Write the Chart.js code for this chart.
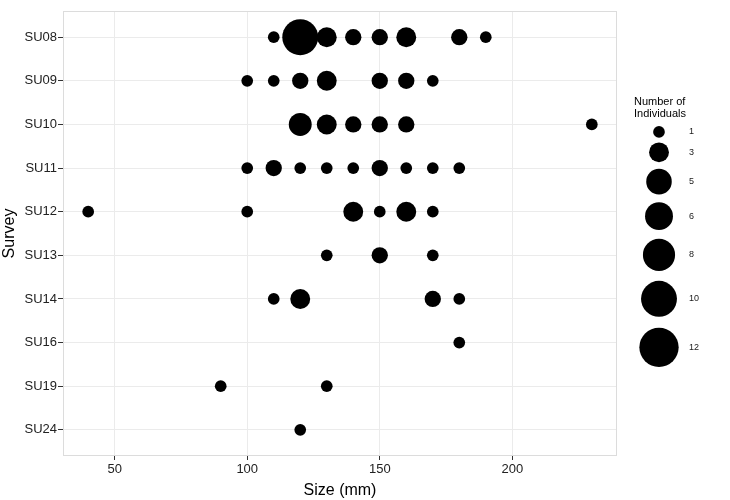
<!DOCTYPE html>
<html>
<head>
<meta charset="utf-8">
<script src="https://cdn.jsdelivr.net/npm/chart.js@4/dist/chart.umd.min.js"></script>
<style>
  html, body { margin: 0; padding: 0; background: #fff; }
  #wrap { width: 730px; height: 500px; }
</style>
</head>
<body>
<div id="wrap"><canvas id="c" width="730" height="500"></canvas></div>
<script>
// ---- data ----
const surveys = ['SU08','SU09','SU10','SU11','SU12','SU13','SU14','SU16','SU19','SU24'];

const pointSurvey = [
  'SU08','SU08','SU08','SU08','SU08','SU08','SU08','SU08',
  'SU09','SU09','SU09','SU09','SU09','SU09','SU09',
  'SU10','SU10','SU10','SU10','SU10','SU10',
  'SU11','SU11','SU11','SU11','SU11','SU11','SU11','SU11','SU11',
  'SU12','SU12','SU12','SU12','SU12','SU12',
  'SU13','SU13','SU13',
  'SU14','SU14','SU14','SU14',
  'SU16',
  'SU19','SU19',
  'SU24'
];
const pointSize = [
  110,120,130,140,150,160,180,190,
  100,110,120,130,150,160,170,
  120,130,140,150,160,230,
  100,110,120,130,140,150,160,170,180,
  40,100,140,150,160,170,
  130,150,170,
  110,120,170,180,
  180,
  90,130,
  120
];
const pointCount = [
  1,10,3,2,2,3,2,1,
  1,1,2,3,2,2,1,
  4,3,2,2,2,1,
  1,2,1,1,1,2,1,1,1,
  1,1,3,1,3,1,
  1,2,1,
  1,3,2,1,
  1,
  1,1,
  1
];
const xTicks = [50, 100, 150, 200];
const legendBreaks = [1, 3, 5, 6, 8, 10, 12];

// ---- helpers ----
const FONT = '"Liberation Sans", Arial, Helvetica, sans-serif';
function radiusFor(n) { return 0.25 + 5.6 * Math.sqrt(n); }

const points = pointSize.map((s, i) => ({ x: s, y: surveys.indexOf(pointSurvey[i]) }));

const panelBorder = {
  id: 'panelBorder',
  beforeDatasetsDraw(chart) {
    const { ctx, chartArea: a } = chart;
    ctx.save();
    ctx.strokeStyle = '#DCDCDC';
    ctx.lineWidth = 1;
    ctx.strokeRect(Math.round(a.left) + 0.5, Math.round(a.top) + 0.5,
                   Math.round(a.right - a.left) - 1, Math.round(a.bottom - a.top) - 1);
    ctx.restore();
  }
};

const sizeLegend = {
  id: 'sizeLegend',
  afterDraw(chart) {
    const ctx = chart.ctx;
    ctx.save();
    ctx.fillStyle = '#000';
    ctx.textBaseline = 'middle';
    ctx.textAlign = 'left';
    ctx.font = '11px ' + FONT;
    ctx.fillText('Number of', 634, 102);
    ctx.fillText('Individuals', 634, 114);
    ctx.font = '9px ' + FONT;
    let y = 124.4;
    legendBreaks.forEach(n => {
      const r = radiusFor(n);
      const h = 2 * r * 1.29;
      const cy = y + h / 2;
      ctx.fillStyle = '#000';
      ctx.beginPath();
      ctx.arc(659, cy, r, 0, Math.PI * 2);
      ctx.fill();
      ctx.fillStyle = '#1a1a1a';
      ctx.fillText(String(n), 689, cy);
      y += h;
    });
    ctx.restore();
  }
};

new Chart(document.getElementById('c'), {
  type: 'scatter',
  data: {
    datasets: [{
      data: points,
      backgroundColor: '#000',
      borderWidth: 0,
      clip: false,
      pointRadius: ctx => radiusFor(pointCount[ctx.dataIndex]),
      pointHoverRadius: ctx => radiusFor(pointCount[ctx.dataIndex])
    }]
  },
  options: {
    responsive: false,
    animation: false,
    devicePixelRatio: 1,
    layout: { autoPadding: false, padding: { left: 0, top: 11, right: 113, bottom: 0 } },
    plugins: {
      legend: { display: false },
      tooltip: { enabled: false }
    },
    scales: {
      x: {
        type: 'linear',
        min: 30.5,
        max: 239.5,
        afterBuildTicks: s => { s.ticks = xTicks.map(v => ({ value: v })); },
        grid: { color: '#EBEBEB', lineWidth: 1, tickColor: '#333', tickLength: 4, drawTicks: true },
        border: { display: false },
        ticks: { font: { family: FONT, size: 13 }, color: '#222', padding: 2, maxRotation: 0 },
        title: { display: true, text: 'Size (mm)', font: { family: FONT, size: 16 }, color: '#000', padding: { top: 0, bottom: 0 } },
        afterFit: s => { s.height = 44; s.paddingLeft = 0; s.paddingRight = 0; }
      },
      y: {
        type: 'linear',
        reverse: true,
        min: -0.6,
        max: 9.6,
        afterBuildTicks: s => { s.ticks = surveys.map((_, i) => ({ value: i })); },
        grid: { color: '#EBEBEB', lineWidth: 1, tickColor: '#333', tickLength: 5, drawTicks: true },
        border: { display: false },
        ticks: { font: { family: FONT, size: 13 }, color: '#222', padding: 1, callback: v => surveys[v] },
        title: { display: true, text: 'Survey', font: { family: FONT, size: 16 }, color: '#000', padding: { top: 0, bottom: 0 } },
        afterFit: s => { s.width = 63; s.paddingTop = 0; s.paddingBottom = 0; }
      }
    }
  },
  plugins: [panelBorder, sizeLegend]
});
</script>
</body>
</html>
